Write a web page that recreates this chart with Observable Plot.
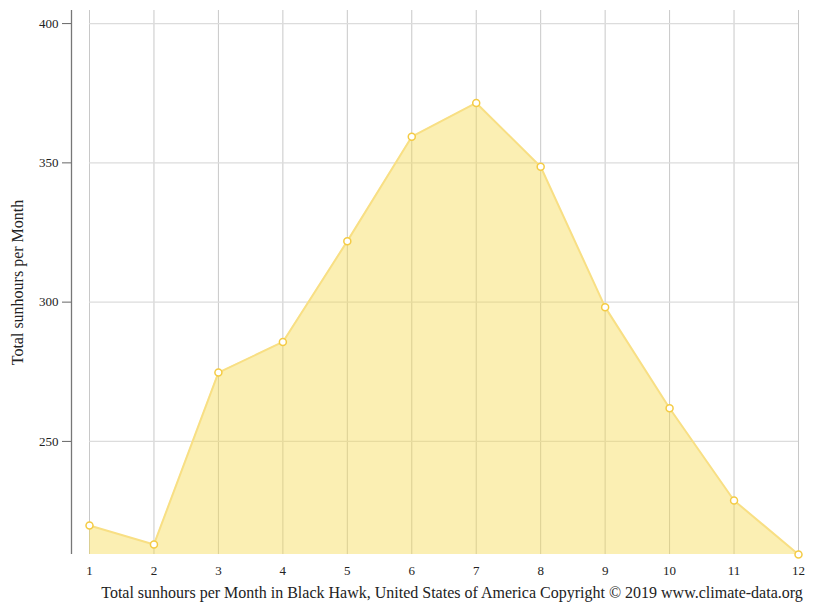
<!DOCTYPE html>
<html>
<head>
<meta charset="utf-8">
<script src="https://cdn.jsdelivr.net/npm/d3@7"></script>
<script src="https://cdn.jsdelivr.net/npm/@observablehq/plot@0.6"></script>
<style>
  html, body { margin: 0; padding: 0; background: #fff; }
</style>
</head>
<body>
<div id="chart"></div>
<script>
const months = [1, 2, 3, 4, 5, 6, 7, 8, 9, 10, 11, 12];
const sunhours = [219.8, 213.0, 274.7, 285.7, 321.9, 359.4, 371.5, 348.6, 298.2, 261.9, 228.8, 209.4];
const yTicks = [250, 300, 350, 400];
const yDomain = [209.4, 404.7];
const yLabel = "Total sunhours per Month";
const caption = "Total sunhours per Month in Black Hawk, United States of America Copyright © 2019 www.climate-data.org";

const data = months.map((m, i) => ({month: m, hours: sunhours[i]}));

const chart = Plot.plot({
  width: 815,
  height: 611,
  marginTop: 10,
  marginBottom: 57,
  marginLeft: 89,
  marginRight: 17,
  style: {fontFamily: "'Liberation Serif', 'Times New Roman', serif", fontSize: "13px", color: "#333", background: "#fff"},
  x: {domain: [1, 12], axis: null},
  y: {domain: yDomain, axis: null},
  marks: [
    Plot.gridX(months, {stroke: "#c8c8c8", strokeOpacity: 1}),
    Plot.gridY(yTicks, {stroke: "#dcdcdc", strokeOpacity: 1, strokeWidth: 1.3}),
    Plot.areaY(data, {x: "month", y1: yDomain[0], y2: "hours", fill: "#f5d84a", fillOpacity: 0.42}),
    Plot.line(data, {x: "month", y: "hours", stroke: "#f8df84", strokeWidth: 2}),
    Plot.dot(data, {x: "month", y: "hours", r: 3.5, fill: "#fff", stroke: "#f4cb44", strokeWidth: 1.5}),
    Plot.ruleX([1], {dx: -18, stroke: "#777", strokeWidth: 1.3}),
    Plot.axisY(yTicks, {dx: -18, tickSize: 9, tickFormat: () => "", label: null, stroke: "#666"}),
    Plot.text(yTicks, {y: d => d, text: d => String(d), frameAnchor: "left", textAnchor: "end", dx: -31, fontSize: 13, fill: "#222"}),
    Plot.text(months, {x: d => d, text: d => String(d), frameAnchor: "bottom", lineAnchor: "middle", dy: 16, fontSize: 13, fill: "#222"}),
    Plot.text([yLabel], {frameAnchor: "left", textAnchor: "middle", lineAnchor: "middle", rotate: -90, dx: -72, fontSize: 16, fill: "#222"}),
    Plot.text([caption], {frameAnchor: "bottom", textAnchor: "middle", lineAnchor: "middle", dy: 38, dx: 8, fontSize: 16, fill: "#222"})
  ]
});
document.getElementById("chart").appendChild(chart);
</script>
</body>
</html>
